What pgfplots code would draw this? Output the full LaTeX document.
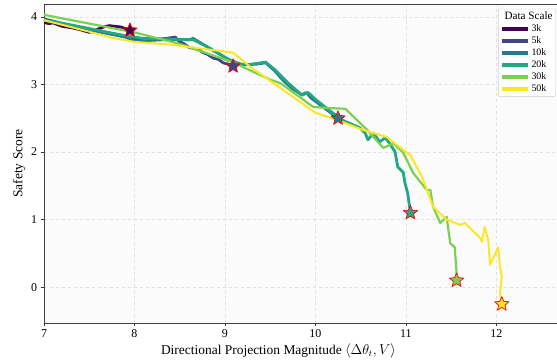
\documentclass[border=0pt]{standalone}
\usepackage{pgfplots}
\pgfplotsset{compat=1.18}
\usepackage{fontspec}
\setmainfont{Liberation Serif}
\definecolor{cA}{HTML}{440154}
\definecolor{cB}{HTML}{414487}
\definecolor{cC}{HTML}{2A788E}
\definecolor{cD}{HTML}{22A884}
\definecolor{cE}{HTML}{7AD151}
\definecolor{cF}{HTML}{FDE725}
\pgfdeclareplotmark{fstar}{%
  \pgfpathmoveto{\pgfpointpolar{90}{\pgfplotmarksize}}%
  \pgfpathlineto{\pgfpointpolar{126}{0.45\pgfplotmarksize}}%
  \pgfpathlineto{\pgfpointpolar{162}{\pgfplotmarksize}}%
  \pgfpathlineto{\pgfpointpolar{198}{0.45\pgfplotmarksize}}%
  \pgfpathlineto{\pgfpointpolar{234}{\pgfplotmarksize}}%
  \pgfpathlineto{\pgfpointpolar{270}{0.45\pgfplotmarksize}}%
  \pgfpathlineto{\pgfpointpolar{306}{\pgfplotmarksize}}%
  \pgfpathlineto{\pgfpointpolar{342}{0.45\pgfplotmarksize}}%
  \pgfpathlineto{\pgfpointpolar{18}{\pgfplotmarksize}}%
  \pgfpathlineto{\pgfpointpolar{54}{0.45\pgfplotmarksize}}%
  \pgfpathclose
  \pgfusepathqfillstroke}
\begin{document}
\begin{tikzpicture}
\begin{axis}[
  scale only axis, width=513bp, height=319bp,
  xmin=7, xmax=12.67, ymin=-0.53, ymax=4.19,
  xtick={7,8,9,10,11,12}, ytick={0,1,2,3,4},
  tick align=outside, xtick pos=bottom, ytick pos=left,
  major tick length=3.5pt,
  tick style={black!80, line width=0.6pt},
  axis line style={black!75, line width=0.9pt},
  axis background/.style={fill=black!1.5},
  grid=major, grid style={dashed, black!12, line width=0.5pt},
  /pgf/number format/assume math mode=true,
  ticklabel style={font=\fontsize{12}{14}\selectfont},
  xlabel={Directional Projection Magnitude $\langle \Delta\theta_t, V\rangle$},
  ylabel={Safety Score},
  label style={font=\fontsize{13.5}{15}\selectfont},
  xlabel style={yshift=1pt, xshift=-22bp},
  ylabel style={yshift=-1pt},
  legend cell align=left,
  legend style={at={(0.998,0.985)}, anchor=north east, font=\fontsize{10}{12}\selectfont,
    draw=black!20, fill=white, rounded corners=2pt, row sep=1.2pt, inner sep=2pt,
    nodes={inner sep=1.2pt}},
  legend image code/.code={\draw[line width=4bp,#1] (0,0) -- (26bp,0);},
  every axis plot/.append style={line join=round},
]
\addlegendimage{empty legend}
\addlegendentry{\hspace{-0.95cm}\fontsize{11.2}{12}\selectfont Data Scale}
\addplot[cA, line width=2.8pt, mark=none] coordinates {(7.0,3.92)(7.05,3.90)(7.1,3.91)(7.2,3.86)(7.3,3.84)(7.4,3.81)(7.5,3.77)(7.55,3.79)(7.6,3.82)(7.66,3.85)(7.72,3.87)(7.78,3.86)(7.85,3.85)(7.95,3.80)};
\addlegendentry{3k}
\addplot[cB, line width=2.8pt, mark=none] coordinates {(7.0,3.95)(7.2,3.90)(7.4,3.84)(7.6,3.79)(7.8,3.74)(7.95,3.70)(8.05,3.66)(8.2,3.66)(8.35,3.68)(8.45,3.70)(8.5,3.63)(8.55,3.60)(8.6,3.55)(8.7,3.52)(8.76,3.47)(8.8,3.45)(8.87,3.39)(8.93,3.37)(8.98,3.32)(9.04,3.30)(9.09,3.27)};
\addlegendentry{5k}
\addplot[cC, line width=2.8pt, mark=none] coordinates {(7.0,3.97)(7.3,3.87)(7.6,3.78)(7.9,3.70)(8.0,3.64)(8.3,3.66)(8.6,3.66)(8.65,3.68)(8.75,3.60)(8.9,3.48)(9.05,3.36)(9.2,3.29)(9.35,3.30)(9.45,3.32)(9.55,3.20)(9.65,3.05)(9.75,2.93)(9.85,2.85)(9.9,2.88)(9.95,2.80)(10.05,2.70)(10.15,2.60)(10.25,2.50)};
\addlegendentry{10k}
\addplot[cD, line width=2.8pt, mark=none] coordinates {(7.0,3.95)(7.3,3.88)(7.6,3.80)(7.9,3.72)(8.1,3.68)(8.4,3.67)(8.65,3.66)(8.8,3.56)(9.0,3.40)(9.15,3.30)(9.3,3.30)(9.45,3.33)(9.55,3.22)(9.7,3.02)(9.85,2.84)(9.92,2.88)(10.0,2.78)(10.15,2.62)(10.3,2.47)(10.35,2.44)(10.49,2.36)(10.55,2.28)(10.58,2.18)(10.64,2.28)(10.71,2.15)(10.77,2.21)(10.82,2.13)(10.88,2.00)(10.91,1.78)(10.97,1.70)(10.99,1.54)(11.02,1.39)(11.05,1.10)};
\addlegendentry{20k}
\addplot[cE, line width=2.2pt, mark=none] coordinates {(7.0,4.03)(7.5,3.90)(8.0,3.77)(8.5,3.60)(9.1,3.32)(9.5,3.07)(9.61,3.02)(9.83,2.81)(9.97,2.67)(10.13,2.65)(10.33,2.64)(10.57,2.33)(10.75,2.06)(10.86,2.13)(10.97,1.99)(11.08,1.69)(11.23,1.44)(11.27,1.44)(11.30,1.19)(11.38,0.95)(11.45,1.04)(11.49,0.65)(11.54,0.59)(11.56,0.21)(11.56,0.10)};
\addlegendentry{30k}
\addplot[cF, line width=2pt, mark=none] coordinates {(7.0,3.95)(7.5,3.78)(7.75,3.69)(8.0,3.63)(8.4,3.59)(9.09,3.47)(9.28,3.26)(9.61,2.95)(10.0,2.58)(10.25,2.47)(10.52,2.33)(10.79,2.22)(11.05,1.95)(11.18,1.63)(11.30,1.19)(11.45,1.00)(11.6,0.92)(11.65,0.95)(11.82,0.73)(11.84,0.67)(11.87,0.89)(11.91,0.70)(11.93,0.33)(12.02,0.59)(12.04,0.30)(12.06,0.15)(12.04,-0.09)(12.06,-0.26)};
\addlegendentry{50k}
\addplot[only marks, mark=fstar, mark size=7.5pt, draw=red, fill=cA, line width=0.7pt, forget plot] coordinates {(7.95,3.80)};
\addplot[only marks, mark=fstar, mark size=7.5pt, draw=red, fill=cB, line width=0.7pt, forget plot] coordinates {(9.09,3.27)};
\addplot[only marks, mark=fstar, mark size=7.5pt, draw=red, fill=cC, line width=0.7pt, forget plot] coordinates {(10.25,2.50)};
\addplot[only marks, mark=fstar, mark size=7.5pt, draw=red, fill=cD, line width=0.7pt, forget plot] coordinates {(11.05,1.10)};
\addplot[only marks, mark=fstar, mark size=7.5pt, draw=red, fill=cE, line width=0.7pt, forget plot] coordinates {(11.56,0.10)};
\addplot[only marks, mark=fstar, mark size=7.5pt, draw=red, fill=cF, line width=0.7pt, forget plot] coordinates {(12.06,-0.25)};
\coordinate (bl) at (rel axis cs:0,0);
\coordinate (tr) at (rel axis cs:1,1);
\end{axis}
\path (bl) ++(-44bp,-41bp) coordinate (bl2);
\path (tr) ++(0bp,4bp) coordinate (tr2);
\pgfresetboundingbox
\path[use as bounding box] (bl2) rectangle (tr2);
\end{tikzpicture}
\end{document}
